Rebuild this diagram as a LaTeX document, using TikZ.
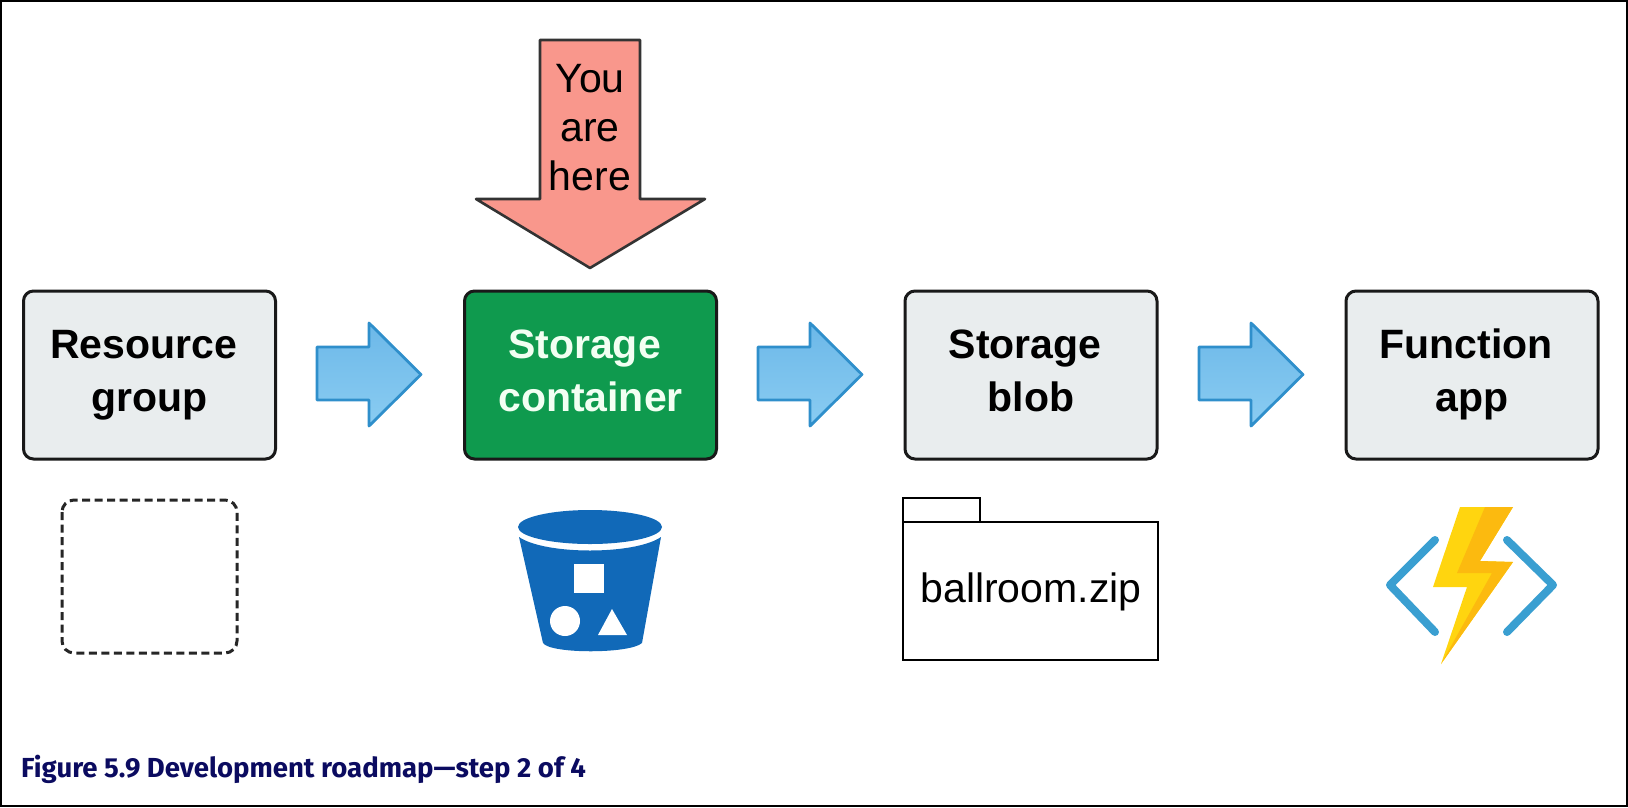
\documentclass[tikz,border=0pt]{standalone}
\usepackage{fontspec}
\setmainfont{Liberation Sans}
\newfontfamily\capfont{Fira Sans}
\usetikzlibrary{calc}
\definecolor{boxgrey}{HTML}{E9EDEE}
\definecolor{boxgreen}{HTML}{0F9A4E}
\definecolor{salmon}{HTML}{F9978C}
\definecolor{bluetop}{HTML}{6CB8E8}
\definecolor{bluebot}{HTML}{8ACCF2}
\definecolor{blueedge}{HTML}{2F8FCB}
\definecolor{bucketblue}{HTML}{1169B8}
\definecolor{codeblue}{HTML}{3A9FD1}
\definecolor{boltlight}{HTML}{FFD50F}
\definecolor{boltdark}{HTML}{FCBA0F}
\definecolor{capblue}{HTML}{0B0B60}
\newcommand{\lnstrut}{\rule[-10pt]{0pt}{40pt}}
\tikzset{
  x=1pt,y=-1pt,
  stepbox/.style={draw=black!90,line width=3pt,rounded corners=10pt,minimum width=252pt,minimum height=168pt,inner sep=0pt,align=center,font=\fontsize{41}{53}\selectfont\bfseries,fill=boxgrey,text=black},
  flowarrow/.style={draw=blueedge,line width=2.8pt,line join=round,top color=bluetop,bottom color=bluebot},
  bigarrow/.style={draw=black!80,line width=2.6pt,line join=round,fill=salmon},
  outline/.style={draw=black,line width=2.8pt},
  bodytext/.style={font=\fontsize{41}{49}\selectfont,align=center,text=black,inner sep=0pt}
}
\begin{document}
\begin{tikzpicture}
\useasboundingbox (0,0) rectangle (1628,807);
\draw[black,line width=2.2pt] (1,1) rectangle (1627,806);
% big arrow
\draw[bigarrow] (540,40) -- (640,40) -- (640,199) -- (705,199) -- (590,268) -- (476,199) -- (540,199) -- cycle;
\node[bodytext] (here) at (590,127.5) {You\\are\\here};
% boxes
\node[stepbox] (rg) at (149.5,375) {\lnstrut Resource\kern12pt\\\lnstrut group};
\node[stepbox,fill=boxgreen,text=white!95!green] (sc) at (590.5,375) {\lnstrut Storage\kern12pt\\\lnstrut container};
\node[stepbox] (sb) at (1031,375) {\lnstrut Storage\kern12pt\\\lnstrut blob};
\node[stepbox] (fa) at (1472,375) {\lnstrut Function\kern12pt\\\lnstrut app};
% flow arrows
\foreach \dx in {0,441,882}{
  \draw[flowarrow,xshift=\dx pt] (317,347) -- (369,347) -- (369,323) -- (421,374.5) -- (369,426) -- (369,400) -- (317,400) -- cycle;
}
% dashed square
\draw[black!85,line width=3pt,dash pattern=on 8pt off 4.5pt,rounded corners=12pt] (62,500) rectangle (237,653);
% bucket
\fill[bucketblue] (590,527) ellipse [x radius=72,y radius=17];
\fill[bucketblue] (519,537) .. controls (545,555) and (635,555) .. (661,537) -- (642,643) .. controls (630,654) and (550,654) .. (543,643) -- cycle;
\fill[white] (574,564) rectangle (604,593);
\fill[white] (565,621) circle [radius=15];
\fill[white] (612,609) -- (627,635) -- (598,635) -- cycle;
% folder
\draw[outline,line join=miter] (903,522) -- (903,498) -- (980,498) -- (980,522);
\draw[outline] (903,522) rectangle (1158,660);
\node[bodytext,anchor=base] (zip) at (1031,602) {ballroom.zip};
% function icon
\draw[codeblue,line width=8pt,line cap=round,line join=round] (1435,540) -- (1390,585) -- (1435,632);
\draw[codeblue,line width=8pt,line cap=round,line join=round] (1507,540) -- (1553,585) -- (1507,632);
\fill[boltlight] (1460,507) -- (1513,507) -- (1480,561) -- (1513,562) -- (1441,664) -- (1467,587) -- (1433,587) -- cycle;
\fill[boltdark] (1485,507) -- (1513,507) -- (1480,561) -- (1513,562) -- (1441,664) -- (1492,573) -- (1457,573) -- cycle;
% caption
\node[anchor=base west,inner sep=0pt,text=capblue,font=\fontsize{27.55}{32}\selectfont\capfont\bfseries] (cap) at (21,777) {Figure 5.9 Development roadmap—step 2 of 4};
\end{tikzpicture}
\end{document}
